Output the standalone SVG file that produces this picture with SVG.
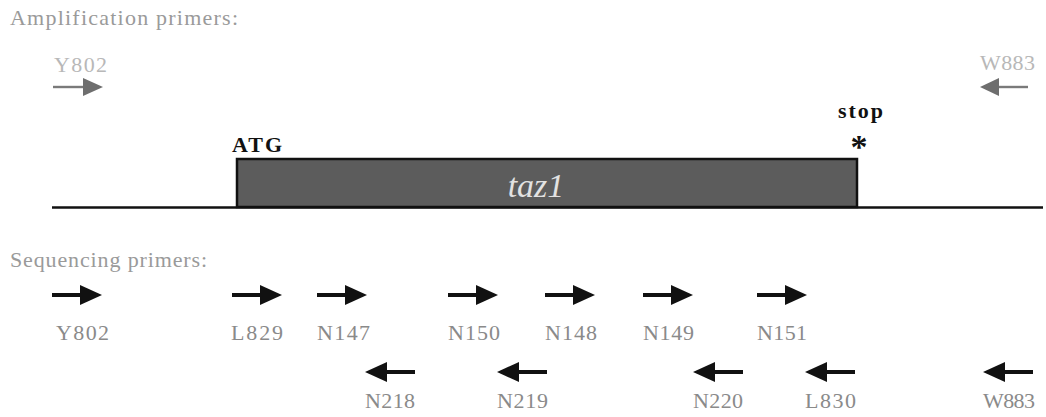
<svg xmlns="http://www.w3.org/2000/svg" xmlns:xlink="http://www.w3.org/1999/xlink" width="1046" height="417" viewBox="0 0 1046 417">
<style>
.lbl{font-size:22px;fill:#8a8a8a}
.amp{font-size:22px;fill:#b8b8b8}
.hdr{font-size:22px;fill:#9a9a9a}
.bold{font-size:22px;font-weight:bold;fill:#111}
</style>
<defs>
<g id="ra"><rect x="0" y="-2" width="30" height="4" fill="#111"/><polygon points="28,-10 50,0 28,10" fill="#111"/></g>
<g id="la"><rect x="20" y="-2" width="30" height="4" fill="#111"/><polygon points="22,-10 0,0 22,10" fill="#111"/></g>
<g id="gra"><rect x="0" y="-1.2" width="32" height="2.4" fill="#7a7a7a"/><polygon points="30,-9 50,0 30,9" fill="#6e6e6e"/></g>
<g id="gla"><rect x="16" y="-1.2" width="32" height="2.4" fill="#7a7a7a"/><polygon points="19,-9 0,0 19,9" fill="#6e6e6e"/></g>
</defs>
<rect width="1046" height="417" fill="#fff"/>
<g font-family="Liberation Serif, DejaVu Serif, serif">
<text class="hdr" x="10" y="25" textLength="228" lengthAdjust="spacing">Amplification primers:</text>
<text class="hdr" x="10" y="267" textLength="197" lengthAdjust="spacing">Sequencing primers:</text>

<g id="amp-Y802">
<text class="amp" x="54" y="72" textLength="53" lengthAdjust="spacing">Y802</text>
<use xlink:href="#gra" x="53" y="87"/>
</g>
<g id="amp-W883">
<text class="amp" x="980" y="70" textLength="55" lengthAdjust="spacing">W883</text>
<use xlink:href="#gla" x="980" y="87"/>
</g>

<g id="connectors">
<line x1="52" y1="207.5" x2="1043" y2="207.5" stroke="#111" stroke-width="2.5"/>
</g>

<g id="gene-taz1">
<rect x="237" y="159" width="620" height="48" fill="#5c5c5c" stroke="#111" stroke-width="2.5"/>
<text x="536" y="197" text-anchor="middle" font-style="italic" font-size="34" fill="#e2e2e2">taz1</text>
</g>
<g id="atg">
<text class="bold" x="232" y="152" textLength="50" lengthAdjust="spacing">ATG</text>
</g>
<g id="stop">
<text class="bold" x="838" y="118" textLength="45" lengthAdjust="spacing">stop</text>
<text x="859" y="158" text-anchor="middle" font-weight="bold" font-size="34" fill="#111">*</text>
</g>

<g id="seq-Y802"><use xlink:href="#ra" x="52" y="295"/><text class="lbl" x="56" y="340" textLength="53" lengthAdjust="spacing">Y802</text></g>
<g id="seq-L829"><use xlink:href="#ra" x="232" y="295"/><text class="lbl" x="231" y="340" textLength="52" lengthAdjust="spacing">L829</text></g>
<g id="seq-N147"><use xlink:href="#ra" x="317" y="295"/><text class="lbl" x="317" y="340" textLength="53" lengthAdjust="spacing">N147</text></g>
<g id="seq-N150"><use xlink:href="#ra" x="448" y="295"/><text class="lbl" x="448" y="340" textLength="52" lengthAdjust="spacing">N150</text></g>
<g id="seq-N148"><use xlink:href="#ra" x="545" y="295"/><text class="lbl" x="545" y="340" textLength="52" lengthAdjust="spacing">N148</text></g>
<g id="seq-N149"><use xlink:href="#ra" x="643" y="295"/><text class="lbl" x="643" y="340" textLength="51" lengthAdjust="spacing">N149</text></g>
<g id="seq-N151"><use xlink:href="#ra" x="757" y="295"/><text class="lbl" x="757" y="340" textLength="50" lengthAdjust="spacing">N151</text></g>

<g id="seq-N218"><use xlink:href="#la" x="365" y="372"/><text class="lbl" x="365" y="408" textLength="50" lengthAdjust="spacing">N218</text></g>
<g id="seq-N219"><use xlink:href="#la" x="497" y="372"/><text class="lbl" x="497" y="408" textLength="51" lengthAdjust="spacing">N219</text></g>
<g id="seq-N220"><use xlink:href="#la" x="693" y="372"/><text class="lbl" x="693" y="408" textLength="50" lengthAdjust="spacing">N220</text></g>
<g id="seq-L830"><use xlink:href="#la" x="805" y="372"/><text class="lbl" x="805" y="408" textLength="51" lengthAdjust="spacing">L830</text></g>
<g id="seq-W883"><use xlink:href="#la" x="983" y="372"/><text class="lbl" x="983" y="408" textLength="52" lengthAdjust="spacing">W883</text></g>
</g>
</svg>
